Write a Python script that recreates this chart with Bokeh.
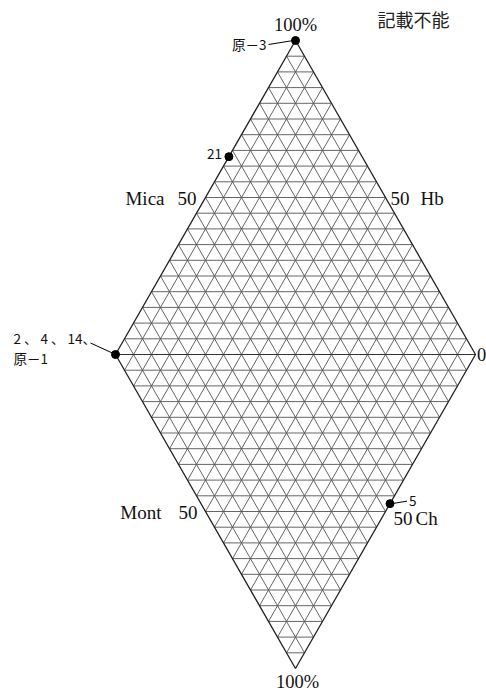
import numpy as np
from bokeh.plotting import figure
from bokeh.models import Range1d
from bokeh.core.properties import value
from bokeh.embed import file_html
from bokeh.resources import INLINE

# ---------------- data ----------------
sample_names = ["原－3", "21", "2 、 4 、 14、", "5"]
extra_names = ["原－1"]                      # second line of the left-vertex label
upper_edge_pct = [100, 63, 0, 52.5]          # along left -> top edge (Mica)
lower_edge_pct = [0, 0, 0, 100]              # along left -> bottom edge (Mont/Ch)

corner_labels = ["100%", "100%", "0"]
corner_pos = [(0, 100), (0, -100), (100, 0)]   # top, bottom, right vertex
edge_names = ["Mica", "Hb", "Mont", "Ch"]
edge_tick = ["50", "50", "50", "50"]
edge_mid = [(-50, 50), (50, 50), (-50, -50), (50, -50)]
note_text = ["記載不能"]
grid_step = 5                                 # percent per grid row

# ---------------- geometry (page pixels) ----------------
W, H = 486, 695
CX, CY = 295, 354              # centre of diamond within the frame
SX, SY = 1.8, 3.14             # px per data unit

p = figure(width=W, height=H, output_backend="svg", toolbar_location=None,
           x_axis_location=None, y_axis_location=None, min_border=0,
           x_range=Range1d(-CX / SX, (W - CX) / SX),
           y_range=Range1d((CY - H) / SY, CY / SY))
p.xgrid.visible = False
p.ygrid.visible = False
p.outline_line_color = None
p.background_fill_color = "white"
p.border_fill_color = "white"

# ---------------- grid ----------------
xs, ys = [], []
for k in range(-100 + grid_step, 100, grid_step):        # horizontal lines
    half = 100 - abs(k)
    xs.append([-half, half]); ys.append([k, k])
for c in range(-100 + 2 * grid_step, 100, 2 * grid_step):  # x - y = c
    xs.append([(c - 100) / 2, (c + 100) / 2]); ys.append([(-100 - c) / 2, (100 - c) / 2])
for c in range(-100 + 2 * grid_step, 100, 2 * grid_step):  # x + y = c
    xs.append([(c - 100) / 2, (c + 100) / 2]); ys.append([(c + 100) / 2, (c - 100) / 2])
p.multi_line(xs, ys, line_color="#555555", line_width=0.9)

# middle horizontal line and outline
p.line([-100, 100], [0, 0], line_color="#333333", line_width=1.1)
p.line([-100, 0, 100, 0, -100], [0, 100, 0, -100, 0], line_color="#222222", line_width=1.3)

# ---------------- points ----------------
a = np.array(upper_edge_pct, float)
b = np.array(lower_edge_pct, float)
px = -100 + a + b
py = a - b
p.scatter(px, py, size=8, color="black")

# leader lines (pixel offsets from the point)
lead = [(0, (-27, 4), (-2, 0)), (2, (-25, -11.5), (-1, -0.5)), (3, (2, 0), (17, -2.5))]
for i, s, e in lead:
    p.line([px[i] + s[0] / SX, px[i] + e[0] / SX],
           [py[i] - s[1] / SY, py[i] - e[1] / SY], line_color="black", line_width=1)

lab_font = value("Noto Sans CJK JP")
# right-aligned labels
p.text(x=[px[0], px[1]], y=[py[0], py[1]], text=[sample_names[0], sample_names[1]],
       x_offset=[-29, -7], y_offset=[3, -3], text_align="right", text_baseline="middle",
       text_font=lab_font, text_font_size="13.5px", text_color="#111111")
# left-aligned labels
p.text(x=[px[2], px[2], px[3]], y=[py[2], py[2], py[3]],
       text=[sample_names[2], extra_names[0], sample_names[3]],
       x_offset=[-102, -102, 19], y_offset=[-16.5, 3, -3], text_align="left",
       text_baseline="middle", text_font=lab_font, text_font_size="13.5px", text_color="#111111")

# ---------------- axis / corner labels ----------------
serif = value("Liberation Serif")
p.text(x=[c[0] for c in corner_pos], y=[c[1] for c in corner_pos], text=corner_labels,
       x_offset=[0, 2, 1.5], y_offset=[-16, 13, 0], text_align=["center", "center", "left"],
       text_baseline="middle", text_font=serif, text_font_size="18.5px", text_color="#111111")

# tick "50" labels
p.text(x=[m[0] for m in edge_mid[0::2]], y=[m[1] for m in edge_mid[0::2]], text=edge_tick[0::2],
       x_offset=[-9, -8], y_offset=[1, 1], text_align="right", text_baseline="middle",
       text_font=serif, text_font_size="19px", text_color="#111111")
p.text(x=[m[0] for m in edge_mid[1::2]], y=[m[1] for m in edge_mid[1::2]], text=edge_tick[1::2],
       x_offset=[5, 8], y_offset=[1, 7], text_align="left", text_baseline="middle",
       text_font=serif, text_font_size="19px", text_color="#111111")
# component names
p.text(x=[m[0] for m in edge_mid[0::2]], y=[m[1] for m in edge_mid[0::2]], text=edge_names[0::2],
       x_offset=[-41, -44], y_offset=[1, 1], text_align="right", text_baseline="middle",
       text_font=serif, text_font_size="19px", text_color="#111111")
p.text(x=[m[0] for m in edge_mid[1::2]], y=[m[1] for m in edge_mid[1::2]], text=edge_names[1::2],
       x_offset=[35, 30], y_offset=[1, 7], text_align="left", text_baseline="middle",
       text_font=serif, text_font_size="19px", text_color="#111111")

# note at top right
p.text(x=[0], y=[100], text=note_text, x_offset=[118], y_offset=[-22], text_align="center",
       text_baseline="middle", text_font=lab_font, text_font_size="18px", text_color="#222222")

open("out.html", "w").write(file_html(p, INLINE))
